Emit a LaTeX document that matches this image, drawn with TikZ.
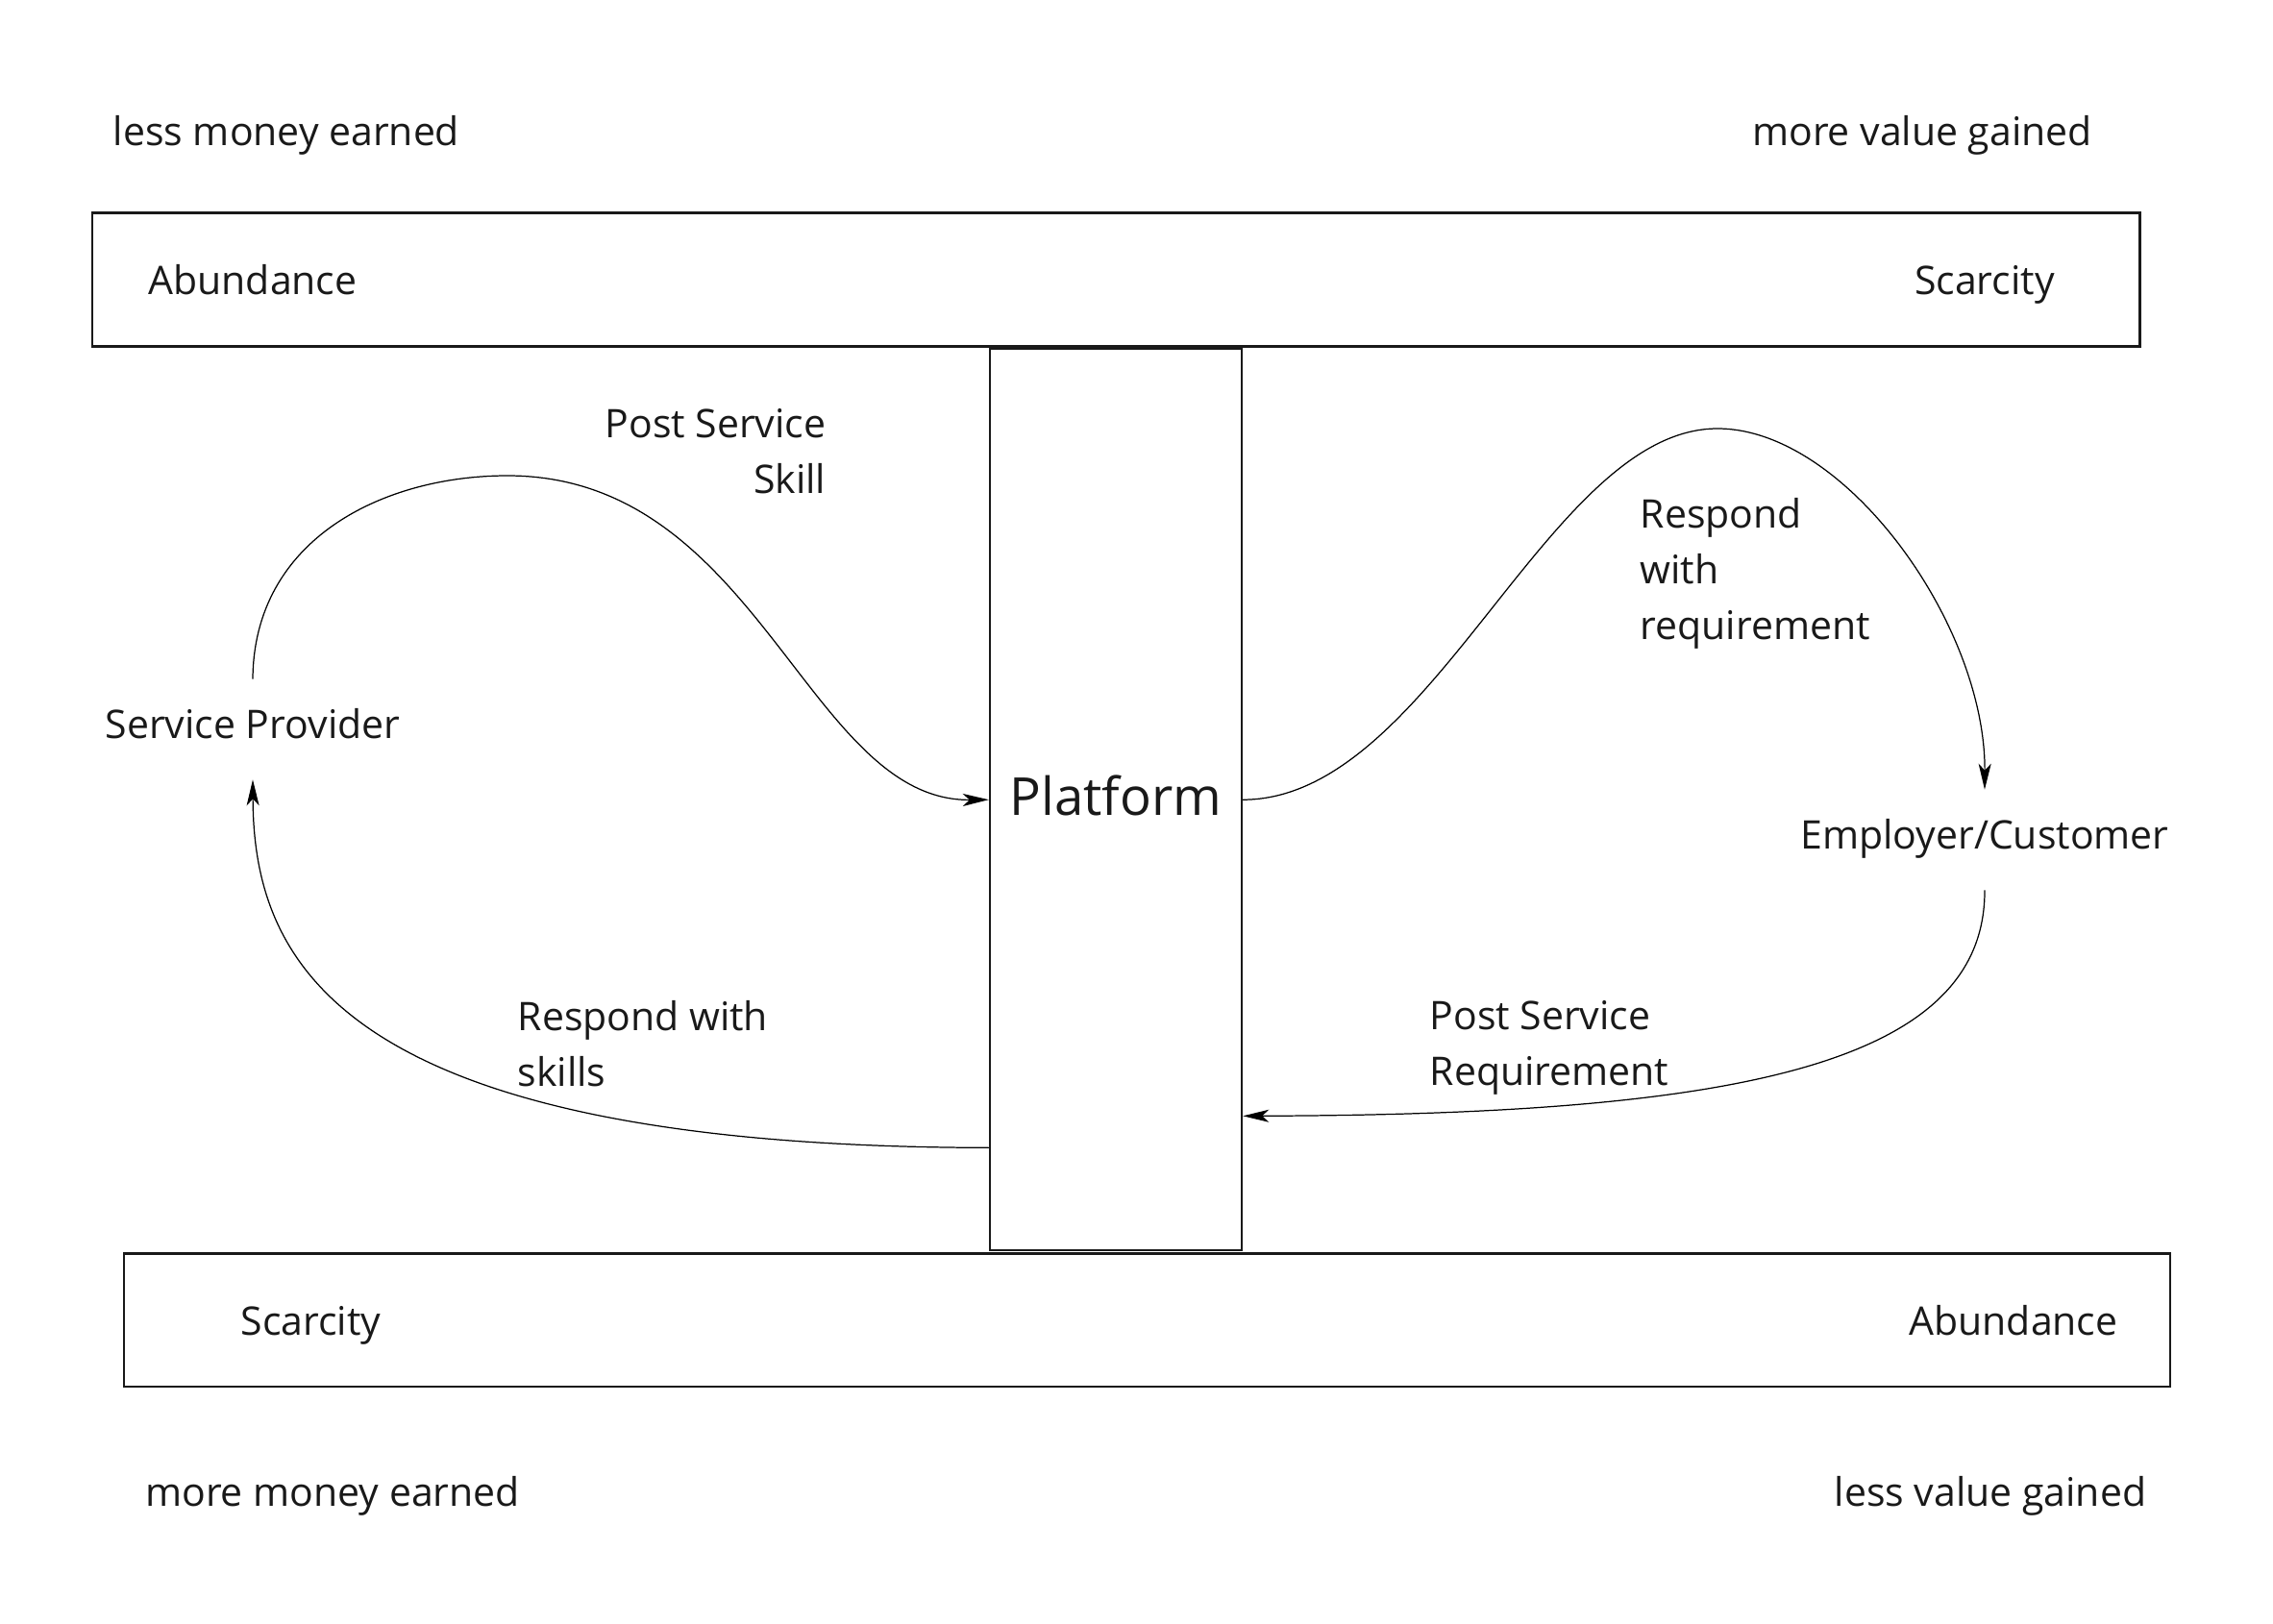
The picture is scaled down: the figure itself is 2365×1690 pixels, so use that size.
\documentclass[tikz,border=0pt]{standalone}
\usepackage{fontspec}
\setmainfont{Open Sans}
\usetikzlibrary{arrows.meta}
\begin{document}
\begin{tikzpicture}[x=0.01cm,y=-0.01cm,
  txt/.style={font=\fontsize{11.65}{16.5}\selectfont, inner sep=0pt, text=black!90},
  one/.style={txt, text height=0.76em, text depth=0.24em},
  bar/.style={draw=black!90, line width=0.65pt, inner sep=0pt},
  conn/.style={draw=black, line width=0.35pt, -{Stealth[length=0.27cm,width=0.13cm,inset=0.07cm]}}]
\useasboundingbox (0,0) rectangle (2365,1690);
% bars
\node[bar, minimum width=21.295cm, minimum height=1.387cm] (topbar) at (1161.25,291) {};
\node[bar, minimum width=21.278cm, minimum height=1.386cm] (botbar) at (1193.6,1373.7) {};
\node[bar, minimum width=2.62cm, minimum height=9.376cm, text depth=2.6pt, font=\fontsize{15.5}{18}\selectfont, text=black!90] (plat) at (1161,832.2) {Platform};
% labels
\node[one] (lme) at (298,142) {less money earned};
\node[one] (mvg) at (2000,142) {more value gained};
\node[one] (abt) at (263,297) {Abundance};
\node[one] (sct) at (2065,297) {Scarcity};
\node[one] (scb) at (323.5,1380) {Scarcity};
\node[one] (abb) at (2095,1380) {Abundance};
\node[one] (mme) at (346,1558) {more money earned};
\node[one] (lvg) at (2071,1558) {less value gained};
\node[one, inner ysep=0.34cm] (sp) at (263,759) {Service Provider};
\node[one, inner ysep=0.34cm] (emp) at (2065,874) {Employer/Customer};
\node[txt, align=right, anchor=east] (pss) at (860,470) {Post Service\\Skill};
\node[txt, align=left, anchor=west] (rwr) at (1706,597) {Respond\\with\\requirement};
\node[txt, align=left, anchor=west] (rws) at (538,1086) {Respond with\\skills};
\node[txt, align=left, anchor=west] (psr) at (1487,1090) {Post Service\\Requirement};
% connectors
\draw[conn] (sp.north) .. controls (264,560) and (400,495) .. (528,495)
  .. controls (790,495) and (840,834) .. (plat.west);
\draw[conn] ([yshift=1.08cm]plat.south west) .. controls (350,1193) and (264,1000) .. (sp.south);
\draw[conn] (plat.east) .. controls (1490,832) and (1610,446) .. (1787,446)
  .. controls (1920,446) and (2066,650) .. (emp.north);
\draw[conn] (emp.south) .. controls (2066,1110) and (1800,1160) .. ([yshift=1.41cm]plat.south east);
\end{tikzpicture}
\end{document}
